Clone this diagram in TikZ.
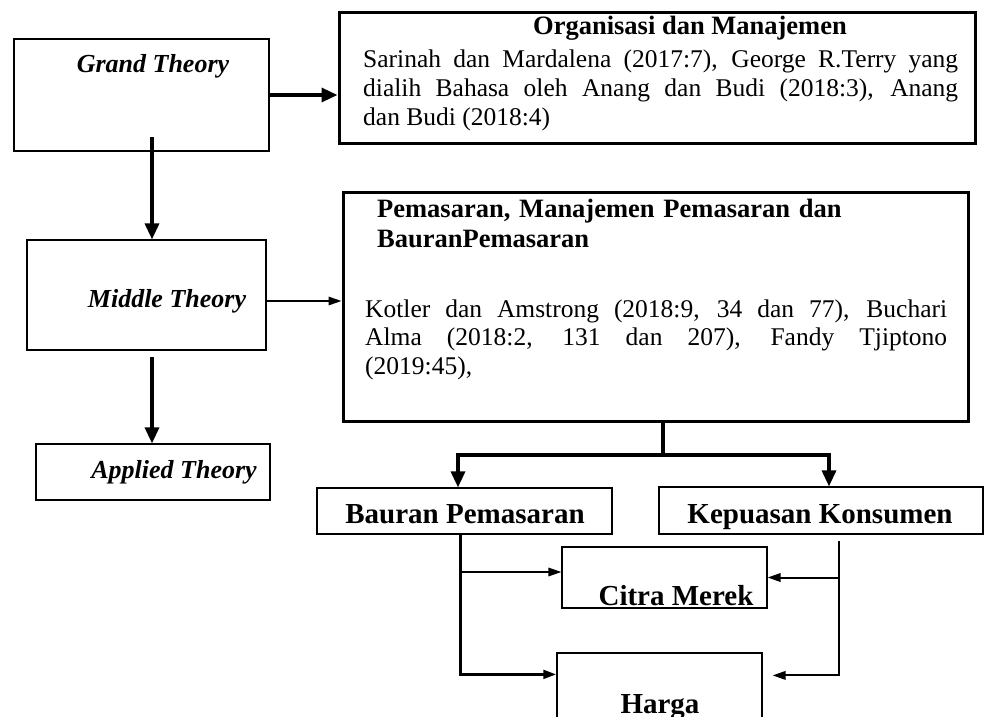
\documentclass[tikz,border=0pt]{standalone}
\usepackage{fontspec}
\setmainfont{Liberation Serif}
\usetikzlibrary{arrows.meta}
\tolerance=10000
\hbadness=10000
\hyphenpenalty=10000

\tikzset{
    box/.style={draw, line width=1.2pt, inner sep=0pt},
    heavybox/.style={draw, line width=3pt, inner sep=0pt},
    theorytxt/.style={font=\fontsize{26}{30}\selectfont\bfseries\itshape, inner sep=0pt, anchor=base},
    headtxt/.style={font=\fontsize{26.5}{30}\selectfont\bfseries, inner sep=0pt},
    bodytxt/.style={font=\fontsize{25.5}{29}\selectfont, inner sep=0pt, anchor=base west, align=justify},
    boxtxt/.style={font=\fontsize{29}{33}\selectfont\bfseries, inner sep=0pt, anchor=base},
    bigarrow/.style={line width=3.3pt, -{Triangle[length=16pt,width=14pt]}},
    thinarrow/.style={line width=1.6pt, -{Triangle[length=13pt,width=8.5pt]}}
}

\begin{document}
\begin{tikzpicture}[x=1pt, y=-1pt]
    \useasboundingbox (0,0) rectangle (985,717);
    \clip (0,0) rectangle (985,717);

    % Define nodes
    \node[box, minimum width=255pt, minimum height=112pt] (grand) at (141.5,95) {};
    \node[theorytxt] (grandtxt) at (153,73) {Grand Theory};

    \node[heavybox, minimum width=636pt, minimum height=130pt] (org) at (657,78) {};
    \node[headtxt, anchor=base] (orgtitle) at (690,35) {Organisasi dan Manajemen};
    \node[bodytxt, text width=595pt] (orgbody) at (363,67)
        {Sarinah dan Mardalena (2017:7), George R.Terry yang\linebreak
         dialih Bahasa oleh Anang dan Budi (2018:3), Anang\linebreak
         dan Budi (2018:4)};

    \node[box, minimum width=239pt, minimum height=110pt] (middle) at (146.5,295) {};
    \node[theorytxt] (middletxt) at (167,307) {Middle Theory};

    \node[heavybox, minimum width=625pt, minimum height=229pt] (pem) at (655.5,306.5) {};
    \node[headtxt, anchor=base west, text width=560pt, align=left] (pemtitle) at (377,217)
        {Pemasaran, Manajemen Pemasaran dan\\BauranPemasaran};
    \node[bodytxt, text width=582pt, font=\fontsize{25.5}{28.5}\selectfont] (pembody) at (365,317)
        {Kotler dan Amstrong (2018:9, 34 dan 77), Buchari\linebreak
         Alma (2018:2, 131 dan 207), Fandy Tjiptono\linebreak
         (2019:45),};

    \node[box, minimum width=234pt, minimum height=56pt] (applied) at (153,472) {};
    \node[theorytxt] (appliedtxt) at (174,478) {Applied Theory};

    \node[box, minimum width=295pt, minimum height=46pt] (bauran) at (464.5,511) {};
    \node[boxtxt] (baurantxt) at (465,523) {Bauran Pemasaran};

    \node[box, minimum width=324pt, minimum height=47pt] (kepuasan) at (821,510.5) {};
    \node[boxtxt] (kepuasantxt) at (820,523) {Kepuasan Konsumen};

    \node[box, minimum width=205pt, minimum height=61pt] (citra) at (664.5,577.5) {};
    \node[boxtxt] (citratxt) at (676,605) {Citra Merek};

    \node[box, minimum width=205pt, minimum height=107pt] (harga) at (659.5,706.5) {};
    \node[boxtxt] (hargatxt) at (660,713) {Harga};

    \coordinate (gdown) at (152,137);
    \coordinate (mdown) at (152,357);
    \coordinate (split) at (663,455);
    \coordinate (bx) at (460,534);
    \coordinate (kx) at (839,541);
    \coordinate (cin) at ([yshift=5.5pt]citra.west);

    % Draw edges
    \draw[bigarrow] (grand.east) -- (grand.east -| org.west);
    \draw[bigarrow] (gdown) -- (gdown |- middle.north);

    \draw[thinarrow] ([yshift=-6pt]middle.east) -- ([yshift=-6pt]middle.east -| pem.west);
    \draw[bigarrow] (mdown) -- (mdown |- applied.north);

    \draw[bigarrow] (pem.south -| split) -- (split) -| ([xshift=-6.5pt]bauran.north);
    \draw[bigarrow] (split) -| ([xshift=8pt]kepuasan.north);

    \draw[thinarrow, line width=3pt] (bx) |- ([yshift=-22pt]harga.north west);
    \draw[thinarrow] (cin -| bx) -- (cin);

    \draw[thinarrow, line width=2pt] (kx) |- ([xshift=10pt,yshift=-23pt]harga.north east);
    \draw[thinarrow, line width=2pt] (citra.east -| kx) -- (citra.east);
\end{tikzpicture}
\end{document}
